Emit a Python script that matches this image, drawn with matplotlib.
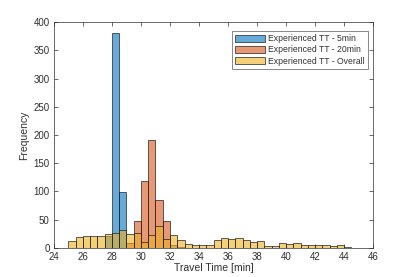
import numpy as np
import matplotlib
matplotlib.use("Agg")
import matplotlib.pyplot as plt

# bin left edges (0.5 min wide) and counts
bin_width = 0.5

tt5_edges = [27.5, 28.0, 28.5]
tt5_counts = [21, 381, 99]

tt20_edges = [29.0, 29.5, 30.0, 30.5, 31.0, 31.5, 32.0, 32.5]
tt20_counts = [8, 48, 118, 192, 85, 47, 5, 2]

overall_edges = [25.0, 25.5, 26.0, 26.5, 27.0, 27.5, 28.0, 28.5, 29.0, 29.5,
                 30.0, 30.5, 31.0, 31.5, 32.0, 32.5, 33.0, 33.5, 34.0, 34.5,
                 35.0, 35.5, 36.0, 36.5, 37.0, 37.5, 38.0, 38.5, 39.0, 39.5,
                 40.0, 40.5, 41.0, 41.5, 42.0, 42.5, 43.0, 43.5, 44.0]
overall_counts = [13, 19, 21, 21, 21, 25, 27, 32, 25, 27,
                  11, 23, 39, 16, 23, 14, 7, 5, 5, 5,
                  14, 17, 15, 17, 14, 10, 12, 4, 4, 8,
                  7, 8, 6, 5, 5, 5, 3, 5, 1]

labels = ["Experienced TT - 5min", "Experienced TT - 20min", "Experienced TT - Overall"]
colors = [(0.0, 0.447, 0.741), (0.85, 0.325, 0.098), (0.929, 0.694, 0.125)]
text_color = '#303030'

plt.rcParams['font.family'] = ['Liberation Sans', 'DejaVu Sans']

fig = plt.figure(figsize=(4.15, 2.77), dpi=100)
ax = fig.add_axes([0.130, 0.105, 0.769, 0.815])

series = [(tt5_edges, tt5_counts), (tt20_edges, tt20_counts), (overall_edges, overall_counts)]
for (edges, counts), color, label in zip(series, colors, labels):
    ax.bar(edges, counts, width=bin_width, align='edge',
           color=color + (0.6,), edgecolor=(0.1, 0.1, 0.1, 0.8),
           linewidth=0.6, label=label)

ax.set_xlim(24, 46)
ax.set_ylim(0, 400)
ax.set_xticks(np.arange(24, 47, 2))
ax.set_yticks(np.arange(0, 401, 50))
ax.tick_params(direction='in', top=True, right=True, labelsize=7,
               length=3, width=0.5, colors=text_color, pad=3)
for s in ax.spines.values():
    s.set_linewidth(0.5)
    s.set_color(text_color)

ax.set_xlabel("Travel Time [min]", fontsize=7.5, color=text_color, labelpad=1)
ax.set_ylabel("Frequency", fontsize=7.5, color=text_color, labelpad=3)

leg = ax.legend(loc='upper right', bbox_to_anchor=(0.984, 0.96), borderaxespad=0,
                fontsize=6.2, frameon=True, fancybox=False,
                handlelength=3.5, handleheight=0.8, handletextpad=0.35,
                borderpad=0.35, labelspacing=0.25)
leg.get_frame().set_edgecolor(text_color)
leg.get_frame().set_linewidth(0.5)
for t in leg.get_texts():
    t.set_color(text_color)

fig.savefig("out.png", dpi=100)
